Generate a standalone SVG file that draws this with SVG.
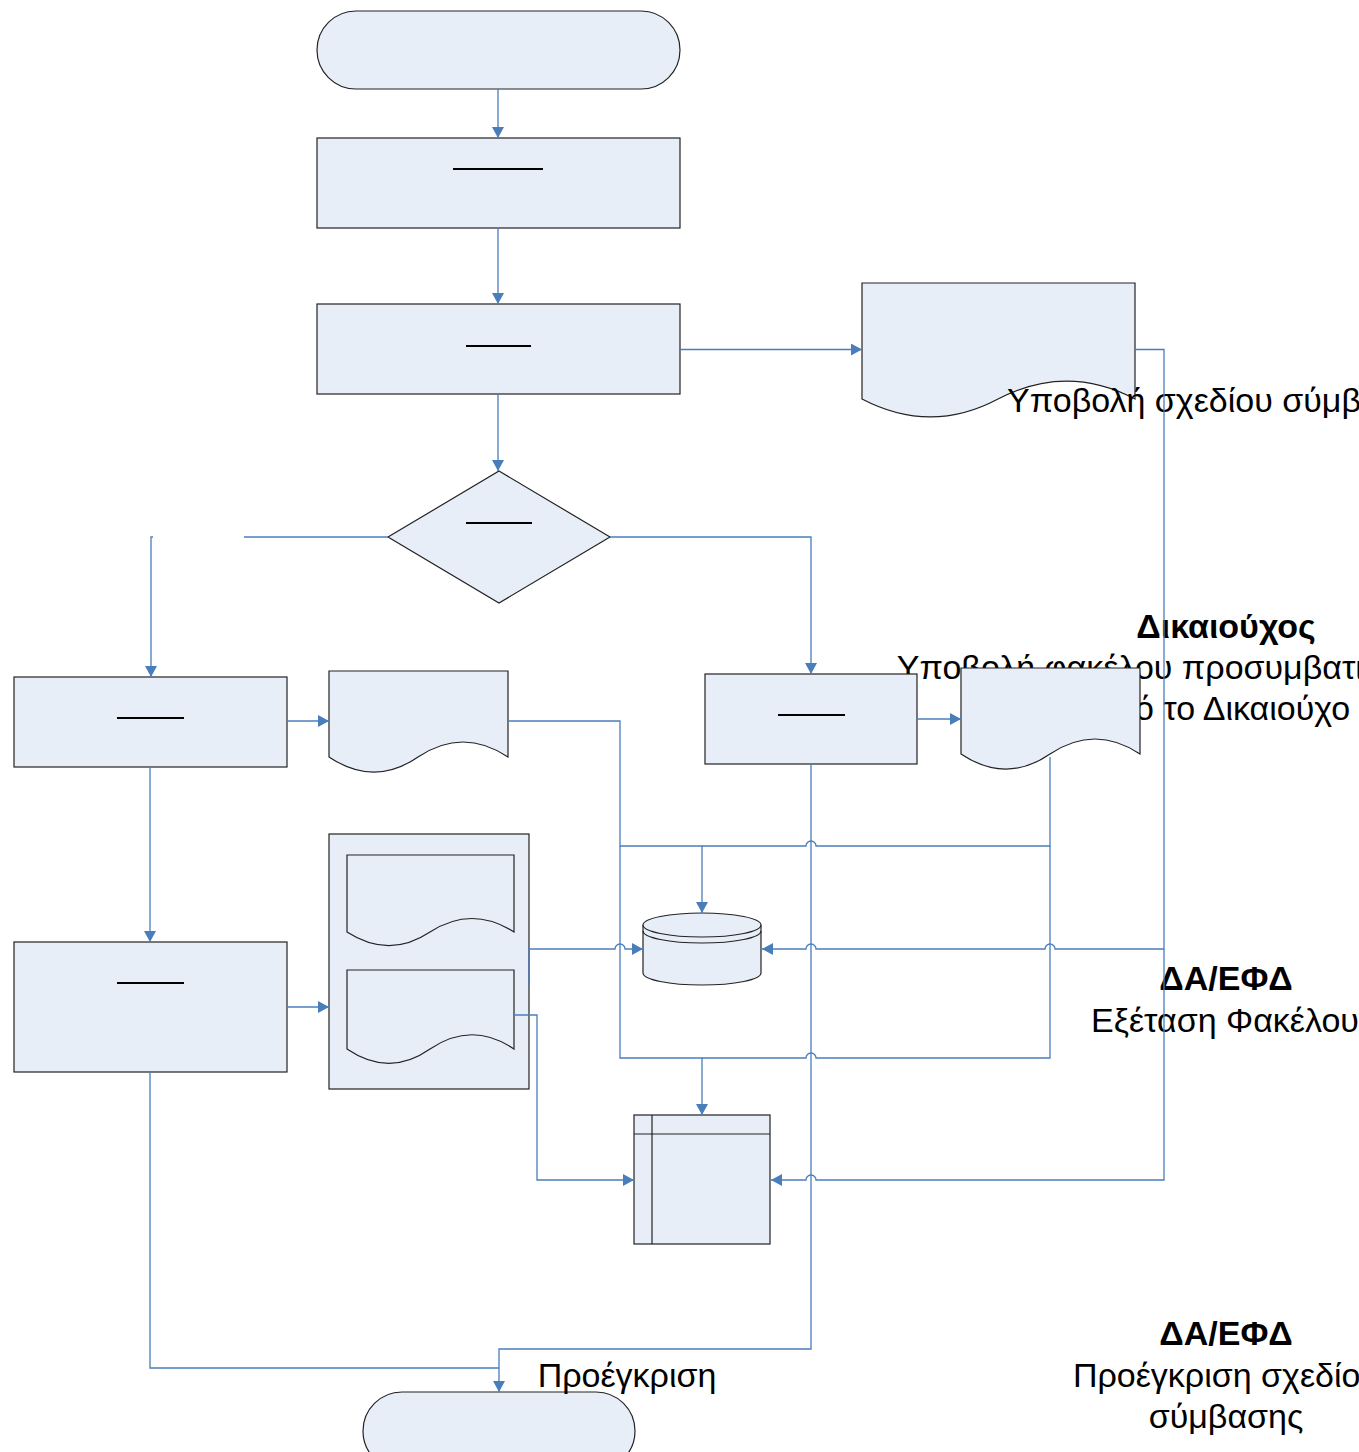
<svg xmlns="http://www.w3.org/2000/svg" width="1359" height="1452" viewBox="0 0 1359 1452">
<style>
.n{fill:#e8eef8;stroke:#222;stroke-width:1.2}
.u{stroke:#000;stroke-width:2}
.c{fill:none;stroke:#4a7ebb;stroke-width:1.3}
.a{marker-end:url(#ah)}
.t{font-family:"Liberation Sans",Arial,sans-serif;font-size:34px;fill:#000;text-anchor:middle}
.b{font-weight:bold}
</style>
<defs>
<marker id="ah" markerUnits="userSpaceOnUse" markerWidth="12" markerHeight="12" refX="11" refY="6" orient="auto">
<path d="M0,0 L11,6 L0,12 z" fill="#4a7ebb"/>
</marker>
</defs>
<rect width="1359" height="1452" fill="#fff"/>

<g id="doc-top">
<path class="n" d="M862,283 H1135 V399 C1089,375 1044,375 998,399 C953,423 908,423 862,399 Z"/>
</g>

<g id="lane-labels">
<text class="t" x="1222" y="412">Υποβολή σχεδίου σύμβασης</text>
<text class="t b" x="1226" y="638">Δικαιούχος</text>
<text class="t" x="1221" y="679">Υποβολή φακέλου προσυμβατικού ελέγχου</text>
<text class="t" x="1221" y="720">από το Δικαιούχο</text>
<text class="t b" x="1226" y="990">ΔΑ/ΕΦΔ</text>
<text class="t" x="1225" y="1032">Εξέταση Φακέλου</text>
<text class="t b" x="1226" y="1345">ΔΑ/ΕΦΔ</text>
<text class="t" x="1226" y="1387">Προέγκριση σχεδίου</text>
<text class="t" x="1226" y="1428">σύμβασης</text>
</g>

<g id="start"><rect class="n" x="317" y="11" width="363" height="78" rx="39" ry="39"/></g>
<g id="box1"><rect class="n" x="317" y="138" width="363" height="90"/><line class="u" x1="453" y1="169" x2="543" y2="169"/></g>
<g id="box2"><rect class="n" x="317" y="304" width="363" height="90"/><line class="u" x1="466" y1="346" x2="531" y2="346"/></g>
<g id="decision"><path class="n" d="M499,471 L610,537 L499,603 L388,537 Z"/><line class="u" x1="466" y1="523" x2="532" y2="523"/></g>
<g id="boxL1"><rect class="n" x="14" y="677" width="273" height="90"/><line class="u" x1="117" y1="718" x2="184" y2="718"/></g>
<g id="docL1"><path class="n" d="M329,671 H508 V757 C478,737 448,737 418,757 C389,777 359,777 329,757 Z"/></g>
<g id="boxR"><rect class="n" x="705" y="674" width="212" height="90"/><line class="u" x1="778" y1="715" x2="845" y2="715"/></g>
<g id="docR"><path class="n" d="M961,668 H1140 V754 C1110,734 1080,734 1050,754 C1021,774 991,774 961,754 Z"/></g>
<g id="boxL2"><rect class="n" x="14" y="942" width="273" height="130"/><line class="u" x1="117" y1="983" x2="184" y2="983"/></g>
<g id="multidoc">
<rect class="n" x="329" y="834" width="200" height="255"/>
<path class="n" d="M347,855 H514 V932 C486,914 458,914 430,932 C403,950 375,950 347,932 Z"/>
<path class="n" d="M347,970 H514 V1049 C486,1030 458,1030 430,1049 C403,1068 375,1068 347,1049 Z"/>
</g>
<g id="database">
<path class="n" d="M643,925 V973 A59,12 0 0 0 761,973 V925"/>
<ellipse class="n" cx="702" cy="925" rx="59" ry="12"/>
<path class="n" d="M643,931 A59,12 0 0 0 761,931" style="fill:none"/>
</g>
<g id="storage">
<rect class="n" x="634" y="1115" width="136" height="129"/>
<line class="n" x1="652" y1="1115" x2="652" y2="1244"/>
<line class="n" x1="634" y1="1134" x2="770" y2="1134"/>
</g>
<g id="end"><rect class="n" x="363" y="1392" width="272" height="78" rx="39" ry="39"/></g>
<g id="end-label"><text class="t" x="627" y="1387">Προέγκριση</text></g>

<g id="connectors">
<path class="c a" d="M498,89 V138"/>
<path class="c a" d="M498,228 V304"/>
<path class="c a" d="M680,349.5 H862"/>
<path class="c a" d="M498,394 V471"/>
<path class="c" d="M388,537 H244"/>
<path class="c a" d="M153,537 H151 V677"/>
<path class="c a" d="M610,537 H811 V674"/>
<path class="c a" d="M287,721 H329"/>
<path class="c a" d="M917,719 H961"/>
<path class="c a" d="M150,767 V942"/>
<path class="c a" d="M287,1007 H329"/>
<path class="c a" d="M508,721 H620 V846 H702 V913"/>
<path class="c a" d="M620,846 V1058 H702 V1115"/>
<path class="c" d="M1050,757 V846 H816 A5,5 0 0 0 806,846 H702"/>
<path class="c" d="M1050,846 V1058 H816 A5,5 0 0 0 806,1058 H702"/>
<path class="c a" d="M1135,349.5 H1164 V949 H1055 A5,5 0 0 0 1045,949 H816 A5,5 0 0 0 806,949 H762"/>
<path class="c a" d="M1164,949 V1180 H816 A5,5 0 0 0 806,1180 H771"/>
<path class="c a" d="M529,986 V949 H615 A5,5 0 0 1 625,949 H643"/>
<path class="c a" d="M514,1015 H537 V1180 H634"/>
<path class="c a" d="M811,764 V1349 H499 V1392"/>
<path class="c" d="M150,1072 V1368 H499"/>
</g>
</svg>
